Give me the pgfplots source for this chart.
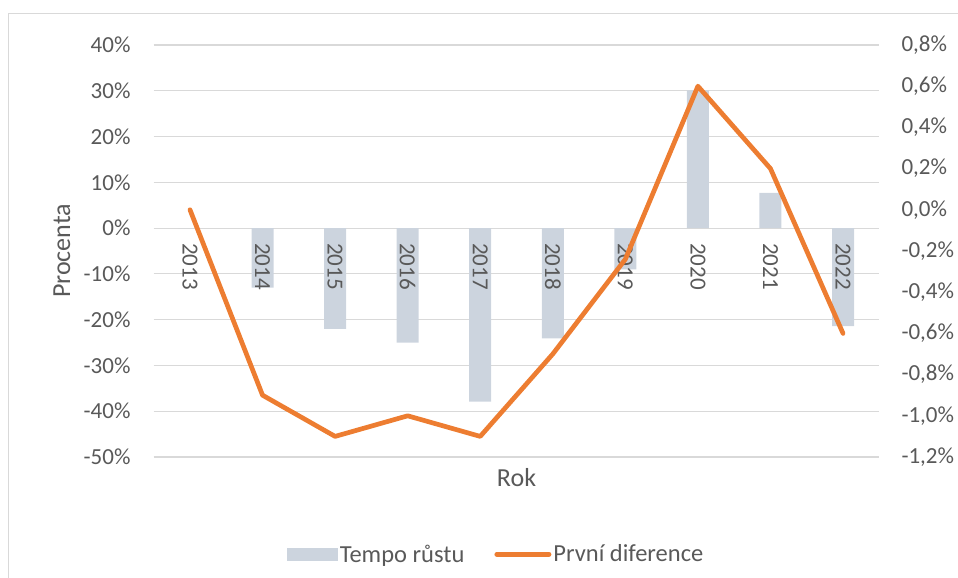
\documentclass[border=0pt]{standalone}
\usepackage{fontspec}
\setmainfont{Carlito}
\usepackage{pgfplots}
\pgfplotsset{compat=1.18}
\definecolor{txt}{HTML}{595959}
\definecolor{gridc}{HTML}{D9D9D9}
\definecolor{barc}{HTML}{CCD4DE}
\definecolor{orng}{HTML}{ED7D31}

\pgfplotstableread{
x val
0 0
1 -13
2 -22
3 -25
4 -37.9
5 -24.1
6 -9
7 30.1
8 7.7
9 -21.4
}\bartable

\pgfplotstableread{
x val
0 0.0
1 -0.9
2 -1.1
3 -1.0
4 -1.1
5 -0.7
6 -0.24
7 0.6
8 0.2
9 -0.6
}\linetable

\begin{document}
\begin{tikzpicture}[x=1pt,y=1pt]
\useasboundingbox (0,0) rectangle (958,578);
\draw[gridc, line width=1pt] (8,0) -- (8,564) -- (958,564);
\begin{axis}[
  at={(153.7pt,121pt)}, anchor=south west,
  scale only axis, width=725.6pt, height=412pt,
  xmin=-0.5, xmax=9.5, ymin=-50, ymax=40,
  axis x line*=middle, axis y line*=left,
  axis line style={draw=none},
  major tick length=0pt,
  xtick={0,1,2,3,4,5,6,7,8,9},
  xticklabels={},
  ytick={-50,-40,-30,-20,-10,0,10,20,30,40},
  yticklabel={\pgfmathprintnumber[assume math mode=true]{\tick}\%},
  ymajorgrids, grid style={gridc, line width=1.2pt},
  tick label style={font=\fontsize{23}{28}\selectfont, text=txt, inner sep=0pt},
  y tick label style={anchor=east, xshift=-23pt},
  ylabel={Procenta},
  ylabel style={at={(axis description cs:-0.1264,0.5)}, anchor=center, font=\fontsize{26}{31}\selectfont, text=txt, inner sep=0pt},
  xlabel={Rok},
  xlabel style={at={(axis description cs:0.5,0)}, anchor=base, yshift=-29.3pt, font=\fontsize{26}{31}\selectfont, text=txt, inner sep=0pt},
  legend style={at={(axis description cs:0.4718,-0.236)}, anchor=center, draw=none, fill=none,
    font=\fontsize{24.5}{29}\selectfont, text=txt, legend columns=-1,
    nodes={inner sep=2pt},
    /tikz/every even column/.append style={column sep=28pt}},
  clip=false,
]
\addplot[ybar, bar width=22pt, fill=barc, draw=none,
  legend image code/.code={\fill[barc] (0pt,-6.5pt) rectangle (51pt,6.5pt);}]
  table[x=x, y=val] {\bartable};
\addlegendentry{Tempo růstu}
\addlegendimage{legend image code/.code={\draw[orng, line width=5pt, line cap=round] (2pt,0pt) -- (54pt,0pt);}}
\addlegendentry{První diference}
\end{axis}
\begin{axis}[
  at={(153.7pt,121pt)}, anchor=south west,
  scale only axis, width=725.6pt, height=412pt,
  xmin=-0.5, xmax=9.5, ymin=-1.2, ymax=0.8,
  axis x line*=middle, axis y line*=right,
  axis line style={draw=none},
  major tick length=0pt,
  xtick={0,1,2,3,4,5,6,7,8,9},
  xticklabels={2013,2014,2015,2016,2017,2018,2019,2020,2021,2022},
  ytick={-1.2,-1.0,-0.8,-0.6,-0.4,-0.2,0,0.2,0.4,0.6,0.8},
  yticklabel={\pgfmathprintnumber[assume math mode=true,fixed,fixed zerofill,precision=1,use comma]{\tick}\%},
  tick label style={font=\fontsize{23}{28}\selectfont, text=txt, inner sep=0pt},
  x tick label style={yshift=-33.2pt, rotate=-90, anchor=west},
  y tick label style={anchor=west, xshift=22pt},
  clip=false,
]
\addplot[orng, line width=4.7pt, line join=round, line cap=round] table[x=x, y=val] {\linetable};
\end{axis}
\end{tikzpicture}
\end{document}
